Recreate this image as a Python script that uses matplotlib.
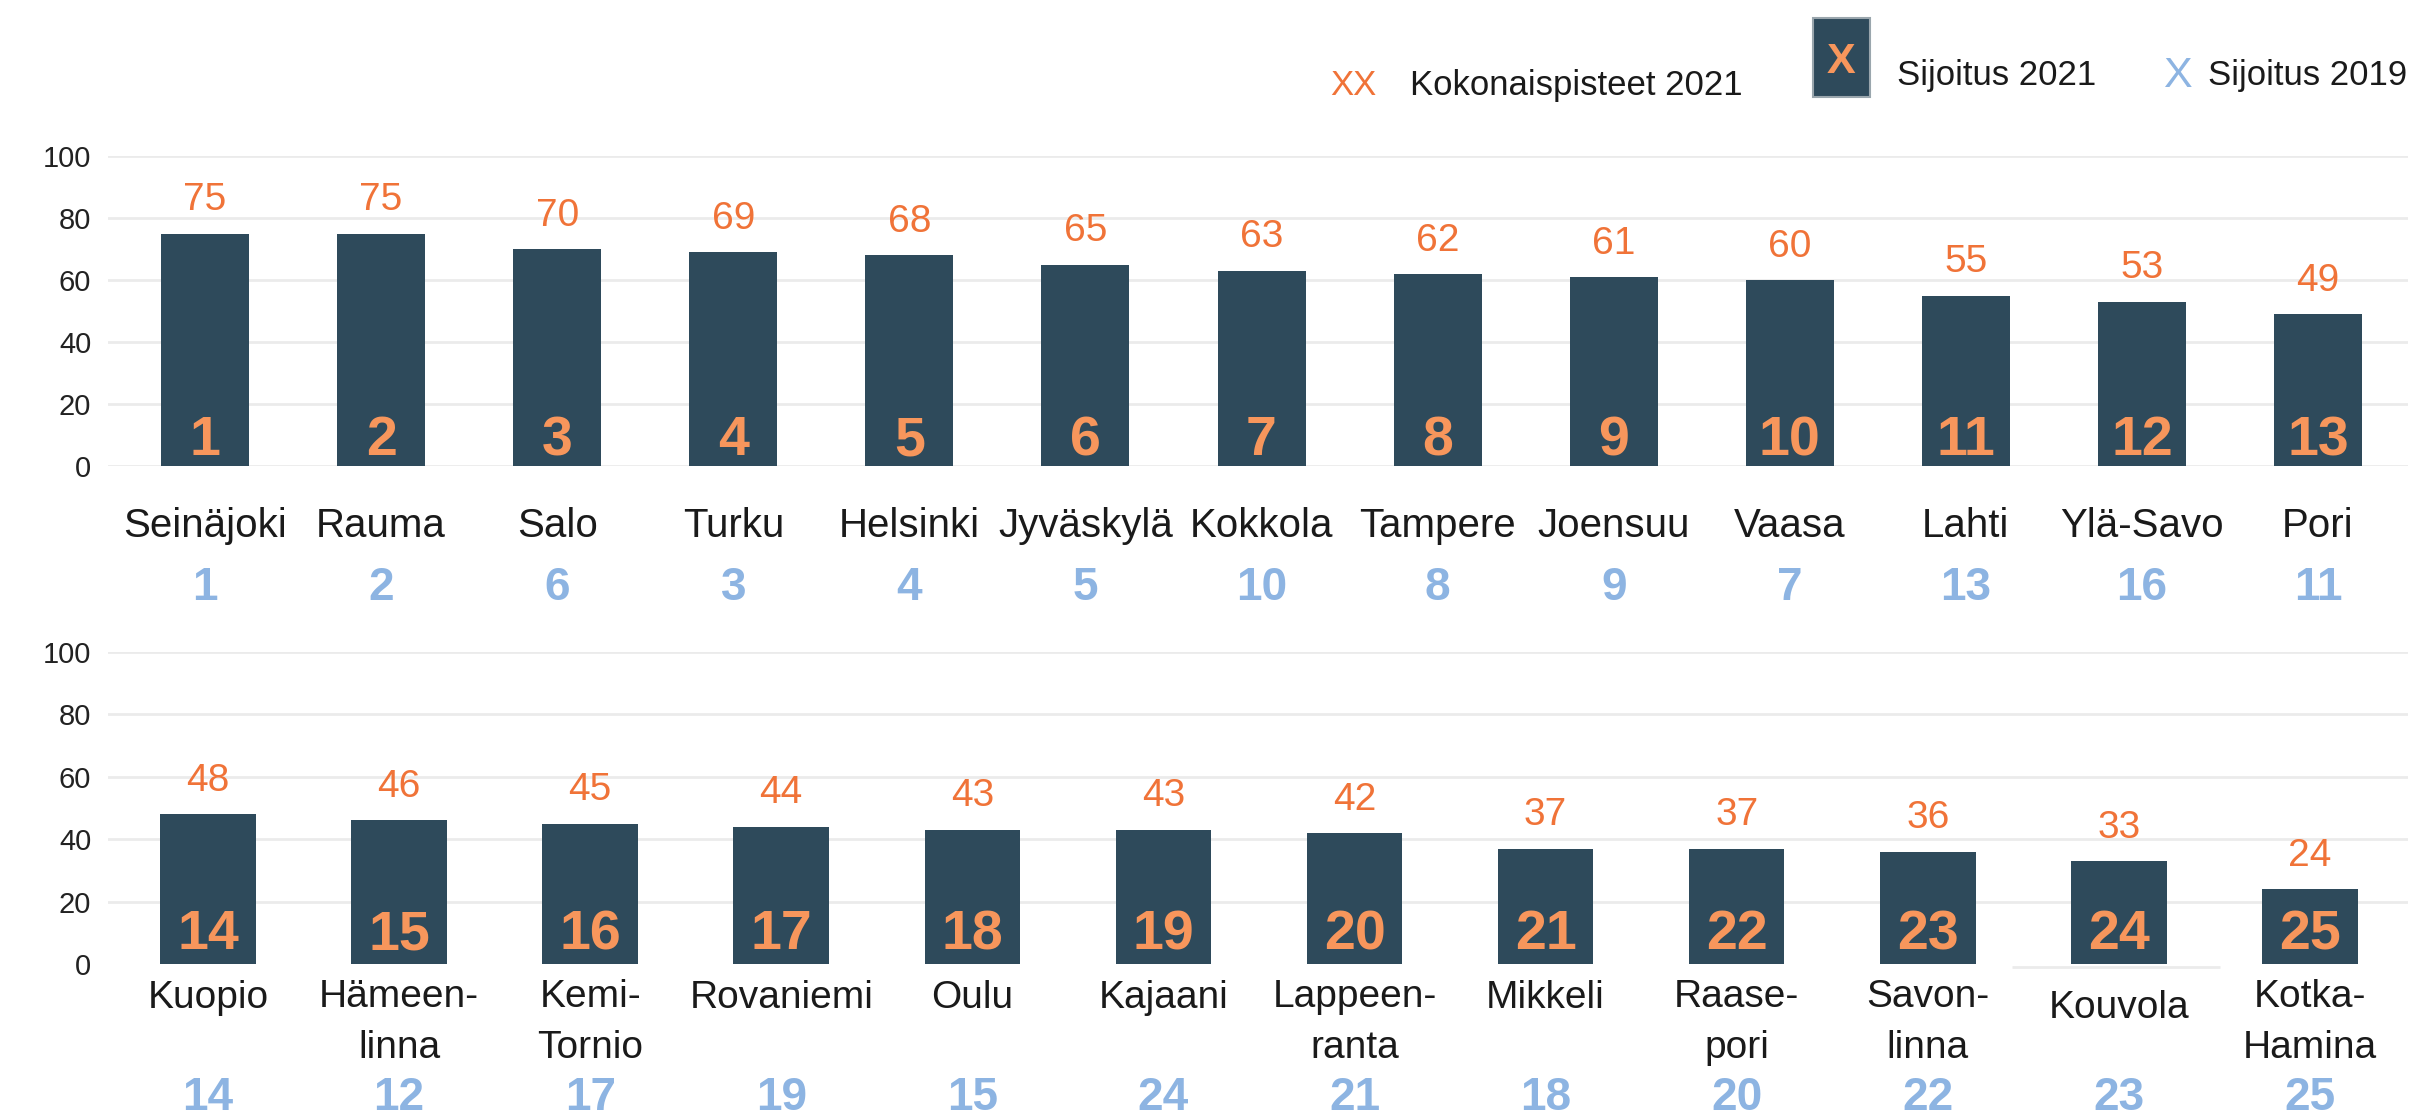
import matplotlib
matplotlib.use("Agg")
import matplotlib.pyplot as plt
from matplotlib.patches import Rectangle

plt.rcParams["font.family"] = ["Liberation Sans", "DejaVu Sans"]

# data
cities_top = ["Seinäjoki", "Rauma", "Salo", "Turku", "Helsinki", "Jyväskylä",
              "Kokkola", "Tampere", "Joensuu", "Vaasa", "Lahti", "Ylä-Savo", "Pori"]
points_top = [75, 75, 70, 69, 68, 65, 63, 62, 61, 60, 55, 53, 49]
rank21_top = [1, 2, 3, 4, 5, 6, 7, 8, 9, 10, 11, 12, 13]
rank19_top = [1, 2, 6, 3, 4, 5, 10, 8, 9, 7, 13, 16, 11]

cities_bottom = ["Kuopio", "Hämeen-\nlinna", "Kemi-\nTornio", "Rovaniemi", "Oulu",
                 "Kajaani", "Lappeen-\nranta", "Mikkeli", "Raase-\npori",
                 "Savon-\nlinna", "Kouvola", "Kotka-\nHamina"]
points_bottom = [48, 46, 45, 44, 43, 43, 42, 37, 37, 36, 33, 24]
rank21_bottom = [14, 15, 16, 17, 18, 19, 20, 21, 22, 23, 24, 25]
rank19_bottom = [14, 12, 17, 19, 15, 24, 21, 18, 20, 22, 23, 25]

yticks = [0, 20, 40, 60, 80, 100]

BAR = "#2E4A5B"
RANK = "#F7965C"
VALUE = "#F07338"
BLUE = "#8DB4E2"
GRID = "#EBEBEB"

W, H = 2418, 1113
fig = plt.figure(figsize=(W / 100, H / 100), dpi=100)


def fx(x):
    return x / W


def fy(y):
    return 1 - y / H


def panel(rect, xlim, names, points, r21, r19, name_y, line_gap, r19_y, rank_y, name_size):
    ax = fig.add_axes(rect)
    xs = list(range(len(names)))
    ax.bar(xs, points, width=0.5, color=BAR, zorder=3)
    ax.set_xlim(*xlim)
    ax.set_ylim(0, 100)
    ax.set_yticks(yticks)
    ax.set_yticklabels([str(t) for t in yticks], fontsize=21, color="#222222")
    ax.tick_params(axis="y", length=0, pad=12)
    ax.set_xticks([])
    for s in ax.spines.values():
        s.set_visible(False)
    ax.grid(axis="y", color=GRID, linewidth=2, zorder=0)
    for x, name, p, a, b in zip(xs, names, points, r21, r19):
        ax.text(x, p + 7.5, str(p), ha="center", va="baseline",
                fontsize=28, color=VALUE)
        ax.text(x, rank_y, str(a), ha="center", va="baseline",
                fontsize=40, fontweight="bold", color=RANK, zorder=4)
        # baseline alignment follows the last line of a wrapped label
        y = name_y - line_gap * name.count("\n")
        ax.text(x, y, name, ha="center", va="baseline", fontsize=name_size,
                color="#1a1a1a", linespacing=1.55, multialignment="center")
        ax.text(x, r19_y, str(b), ha="center", va="baseline",
                fontsize=33, fontweight="bold", color=BLUE)
    return ax


ax1 = panel([fx(108), fy(466), fx(2408) - fx(108), (466 - 156) / H],
            (-0.551, 12.511), cities_top, points_top, rank21_top, rank19_top,
            name_y=-22.9, line_gap=16, r19_y=-43.2, rank_y=3.5, name_size=29)

ax2 = panel([fx(108), fy(964), fx(2408) - fx(108), (964 - 652) / H],
            (-0.523, 11.513), cities_bottom, points_bottom, rank21_bottom,
            rank19_bottom, name_y=-14.1, line_gap=16, r19_y=-46.8, rank_y=4.8,
            name_size=28)
# no zero gridline in the lower panel
ax2.get_ygridlines()[0].set_visible(False)

# Kouvola was pasted in with its own baseline, a bit lower than the rest
k = cities_bottom.index("Kouvola")
ax2.bar([k], [1], bottom=-1, width=0.5, color=BAR, zorder=3)
ax2.hlines(-1, k - 0.56, k + 0.53, color=GRID, linewidth=2, zorder=2, clip_on=False)
for t in ax2.texts:
    if t.get_text() == "Kouvola":
        t.set_y(-17.3)

# legend
fig.text(fx(1330), fy(95), "XX", fontsize=25, color=VALUE, va="baseline")
fig.text(fx(1410), fy(95), "Kokonaispisteet 2021", fontsize=25,
         color="#1a1a1a", va="baseline")
fig.add_artist(Rectangle((fx(1813), fy(97)), fx(1870) - fx(1813), (97 - 18) / H,
                         transform=fig.transFigure, facecolor=BAR,
                         edgecolor="#9AA6AD", linewidth=1.5))
fig.text(fx(1841), fy(62), "X", fontsize=31, fontweight="bold", color=RANK,
         ha="center", va="center")
fig.text(fx(1897), fy(85), "Sijoitus 2021", fontsize=25, color="#1a1a1a",
         va="baseline")
fig.text(fx(2177), fy(87), "X", fontsize=31, color=BLUE, ha="center",
         va="baseline")
fig.text(fx(2208), fy(85), "Sijoitus 2019", fontsize=25, color="#1a1a1a",
         va="baseline")

fig.savefig("out.png", dpi=100, facecolor="white")
